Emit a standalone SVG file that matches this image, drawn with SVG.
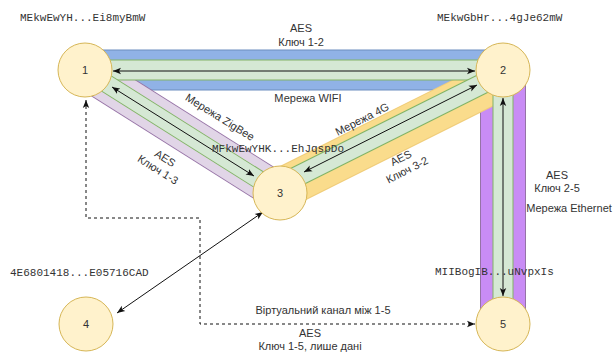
<svg xmlns="http://www.w3.org/2000/svg" width="614" height="360" viewBox="0 0 614 360">
  <defs>
    <marker id="arrow" viewBox="0 0 8 8" refX="8" refY="4" markerWidth="8" markerHeight="8" markerUnits="userSpaceOnUse" orient="auto-start-reverse">
      <path d="M0,0.8 L8,4 L0,7.2 L2,4 Z" fill="#111"/>
    </marker>
  </defs>
  <style>
    .node circle { fill: #fff2cc; stroke: #d6b656; stroke-width: 1; }
    .node text { font-family: "Liberation Sans", Arial, sans-serif; font-size: 11px; fill: #333; text-anchor: middle; }
    .lbl { font-family: "Liberation Sans", Arial, sans-serif; font-size: 11px; fill: #333; text-anchor: middle; }
    .mono { font-family: "Liberation Mono", "Courier New", monospace; font-size: 11px; fill: #333; }
    .wire { fill: none; stroke: #111; stroke-width: 1; marker-start: url(#arrow); marker-end: url(#arrow); }
    .dash { stroke-dasharray: 3 3; }
    .band { fill: none; stroke-linecap: butt; }
  </style>

  <rect width="614" height="360" fill="#ffffff"/>

  <g id="connectors">
    <!-- outer channel bands (network media) -->
    <g id="media">
      <line class="band" x1="85" y1="70" x2="503" y2="70" stroke="#6c8ebf" stroke-width="41"/>
      <line class="band" x1="85" y1="70" x2="503" y2="70" stroke="#90b2e6" stroke-width="39"/>
      <line class="band" x1="503" y1="70" x2="503" y2="324" stroke="#9673a6" stroke-width="46"/>
      <line class="band" x1="503" y1="70" x2="503" y2="324" stroke="#c98cf5" stroke-width="44"/>
      <line class="band" x1="85" y1="70" x2="280" y2="193" stroke="#9673a6" stroke-width="38"/>
      <line class="band" x1="85" y1="70" x2="280" y2="193" stroke="#e1d5e7" stroke-width="36"/>
      <line class="band" x1="281.8" y1="188.6" x2="503" y2="78" stroke="#f0cd7a" stroke-width="42"/>
      <line class="band" x1="281.8" y1="188.6" x2="503" y2="78" stroke="#fadc8c" stroke-width="40"/>
    </g>
    <!-- inner encrypted channels -->
    <g id="tunnels">
      <line class="band" x1="85" y1="70" x2="503" y2="70" stroke="#82b366" stroke-width="21"/>
      <line class="band" x1="85" y1="70" x2="503" y2="70" stroke="#d5e8d4" stroke-width="19"/>
      <line class="band" x1="503" y1="70" x2="503" y2="324" stroke="#82b366" stroke-width="21"/>
      <line class="band" x1="503" y1="70" x2="503" y2="324" stroke="#d5e8d4" stroke-width="19"/>
      <line class="band" x1="85" y1="70" x2="280" y2="193" stroke="#82b366" stroke-width="19"/>
      <line class="band" x1="85" y1="70" x2="280" y2="193" stroke="#d5e8d4" stroke-width="17"/>
      <line class="band" x1="280" y1="185" x2="503" y2="73.5" stroke="#82b366" stroke-width="21"/>
      <line class="band" x1="280" y1="185" x2="503" y2="73.5" stroke="#d5e8d4" stroke-width="19"/>
    </g>
    <!-- links -->
    <g id="links">
      <line class="wire" x1="113" y1="71" x2="475" y2="71"/>
      <line class="wire" x1="112" y1="87" x2="254" y2="176"/>
      <line class="wire" x1="304" y1="172" x2="477" y2="85"/>
      <line class="wire" x1="503" y1="98" x2="503" y2="296"/>
      <line class="wire" x1="263" y1="212" x2="117" y2="313"/>
      <path class="wire dash" d="M86,100 V218 H200 V324 H475"/>
    </g>
  </g>

  <g id="node1" class="node">
    <circle cx="85" cy="70" r="27"/>
    <text x="85" y="74">1</text>
  </g>
  <g id="node2" class="node">
    <circle cx="503" cy="70" r="27"/>
    <text x="503" y="74">2</text>
  </g>
  <g id="node3" class="node">
    <circle cx="280" cy="193" r="27"/>
    <text x="280" y="197">3</text>
  </g>
  <g id="node4" class="node">
    <circle cx="86" cy="324" r="27"/>
    <text x="86" y="328">4</text>
  </g>
  <g id="node5" class="node">
    <circle cx="503" cy="324" r="27"/>
    <text x="503" y="328">5</text>
  </g>

  <g id="keys">
    <text class="mono" x="20" y="21">MEkwEwYH...Ei8myBmW</text>
    <text class="mono" x="437" y="21">MEkwGbHr...4gJe62mW</text>
    <text class="mono" x="212" y="152">MFkwEwYHK...EhJqspDo</text>
    <text class="mono" x="10" y="276">4E6801418...E05716CAD</text>
    <text class="mono" x="435" y="275">MIIBogIB...uNvpxIs</text>
  </g>

  <g id="labels">
    <text class="lbl" x="301" y="32">AES</text>
    <text class="lbl" x="301" y="46">Ключ 1-2</text>
    <text class="lbl" x="308" y="102">Мережа WIFI</text>

    <text class="lbl" transform="translate(220,117) rotate(32)" y="4">Мережа ZigBee</text>
    <g transform="translate(161.5,164) rotate(32)">
      <text class="lbl" y="-3">AES</text>
      <text class="lbl" y="10.5">Ключ 1-3</text>
    </g>

    <text class="lbl" transform="translate(362,119) rotate(-27)" y="4">Мережа 4G</text>
    <g transform="translate(404,164) rotate(-27)">
      <text class="lbl" y="-3">AES</text>
      <text class="lbl" y="10.5">Ключ 3-2</text>
    </g>

    <text class="lbl" x="557" y="179">AES</text>
    <text class="lbl" x="557" y="192">Ключ 2-5</text>
    <text class="lbl" x="569" y="212">Мережа Ethernet</text>

    <text class="lbl" x="323" y="314">Віртуальний канал між 1-5</text>
    <text class="lbl" x="310" y="337">AES</text>
    <text class="lbl" x="310" y="350">Ключ 1-5, лише дані</text>
  </g>
</svg>
